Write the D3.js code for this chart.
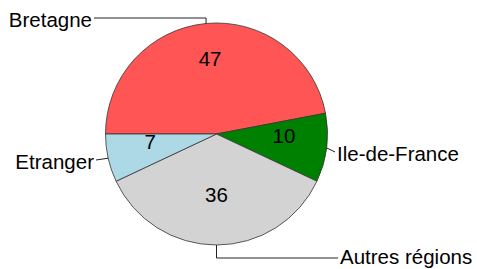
<!DOCTYPE html>
<html>
<head>
<meta charset="utf-8">
<script src="https://cdn.jsdelivr.net/npm/d3@7"></script>
<style>
  body { margin: 0; background: #fff; }
  text { font-family: "Liberation Sans", Arial, sans-serif; }
</style>
</head>
<body>
<div id="chart"></div>
<script>
// data
var categories = ["Bretagne", "Ile-de-France", "Autres régions", "Etranger"];
var values = [47, 10, 36, 7];
var colors = ["#ff5555", "#008000", "#d3d3d3", "#add8e6"];

var width = 477;
var height = 269;
var cx = 216.5, cy = 134, radius = 111;
var fontSize = 20.5;

// where each outer label goes (elbow + line end), in page coords
var labelLayout = [
  { elbow: "vertical", lx: 94, ly: 18, anchor: "end", dy: "0.43em" },
  { elbow: "none", lx: 335, ly: 152, anchor: "start", dy: "0.43em" },
  { elbow: "vertical", lx: 338, ly: 258, anchor: "start", dy: "0.3em" },
  { elbow: "none", lx: 96, ly: 160, anchor: "end", dy: "0.43em" }
];

var svg = d3.select("#chart").append("svg")
  .attr("width", width)
  .attr("height", height);

var pie = d3.pie()
  .sort(null)
  .startAngle(-Math.PI / 2)
  .endAngle(1.5 * Math.PI);

var arcs = pie(values);

var arc = d3.arc().innerRadius(0).outerRadius(radius);

var g = svg.append("g").attr("transform", "translate(" + cx + "," + cy + ")");

g.selectAll("path.slice")
  .data(arcs)
  .join("path")
  .attr("class", "slice")
  .attr("d", arc)
  .attr("fill", (d, i) => colors[i])
  .attr("stroke", "#333")
  .attr("stroke-width", 0.8);

// value labels inside (baseline sits on the label radius)
var inner = d3.arc().innerRadius(68).outerRadius(68);
g.selectAll("text.val")
  .data(arcs)
  .join("text")
  .attr("class", "val")
  .attr("x", d => inner.centroid(d)[0])
  .attr("y", d => inner.centroid(d)[1])
  .attr("text-anchor", "middle")
  .attr("font-size", fontSize)
  .attr("fill", "#000")
  .text(d => d.data);

// leader lines + category labels
arcs.forEach(function (d, i) {
  var a = (d.startAngle + d.endAngle) / 2;
  var ex = cx + radius * Math.sin(a);
  var ey = cy - radius * Math.cos(a);
  var L = labelLayout[i];
  var pts;
  if (L.elbow === "vertical") {
    pts = [[ex, ey], [ex, L.ly], [L.lx, L.ly]];
  } else {
    pts = [[ex, ey], [L.lx, L.ly]];
  }
  svg.append("path")
    .attr("d", d3.line()(pts))
    .attr("fill", "none")
    .attr("stroke", "#222")
    .attr("stroke-width", 1);
  svg.append("text")
    .attr("x", L.anchor === "end" ? L.lx - 2 : L.lx + 2)
    .attr("y", L.ly)
    .attr("dy", L.dy)
    .attr("text-anchor", L.anchor)
    .attr("font-size", fontSize)
    .attr("fill", "#000")
    .text(categories[i]);
});
</script>
</body>
</html>
